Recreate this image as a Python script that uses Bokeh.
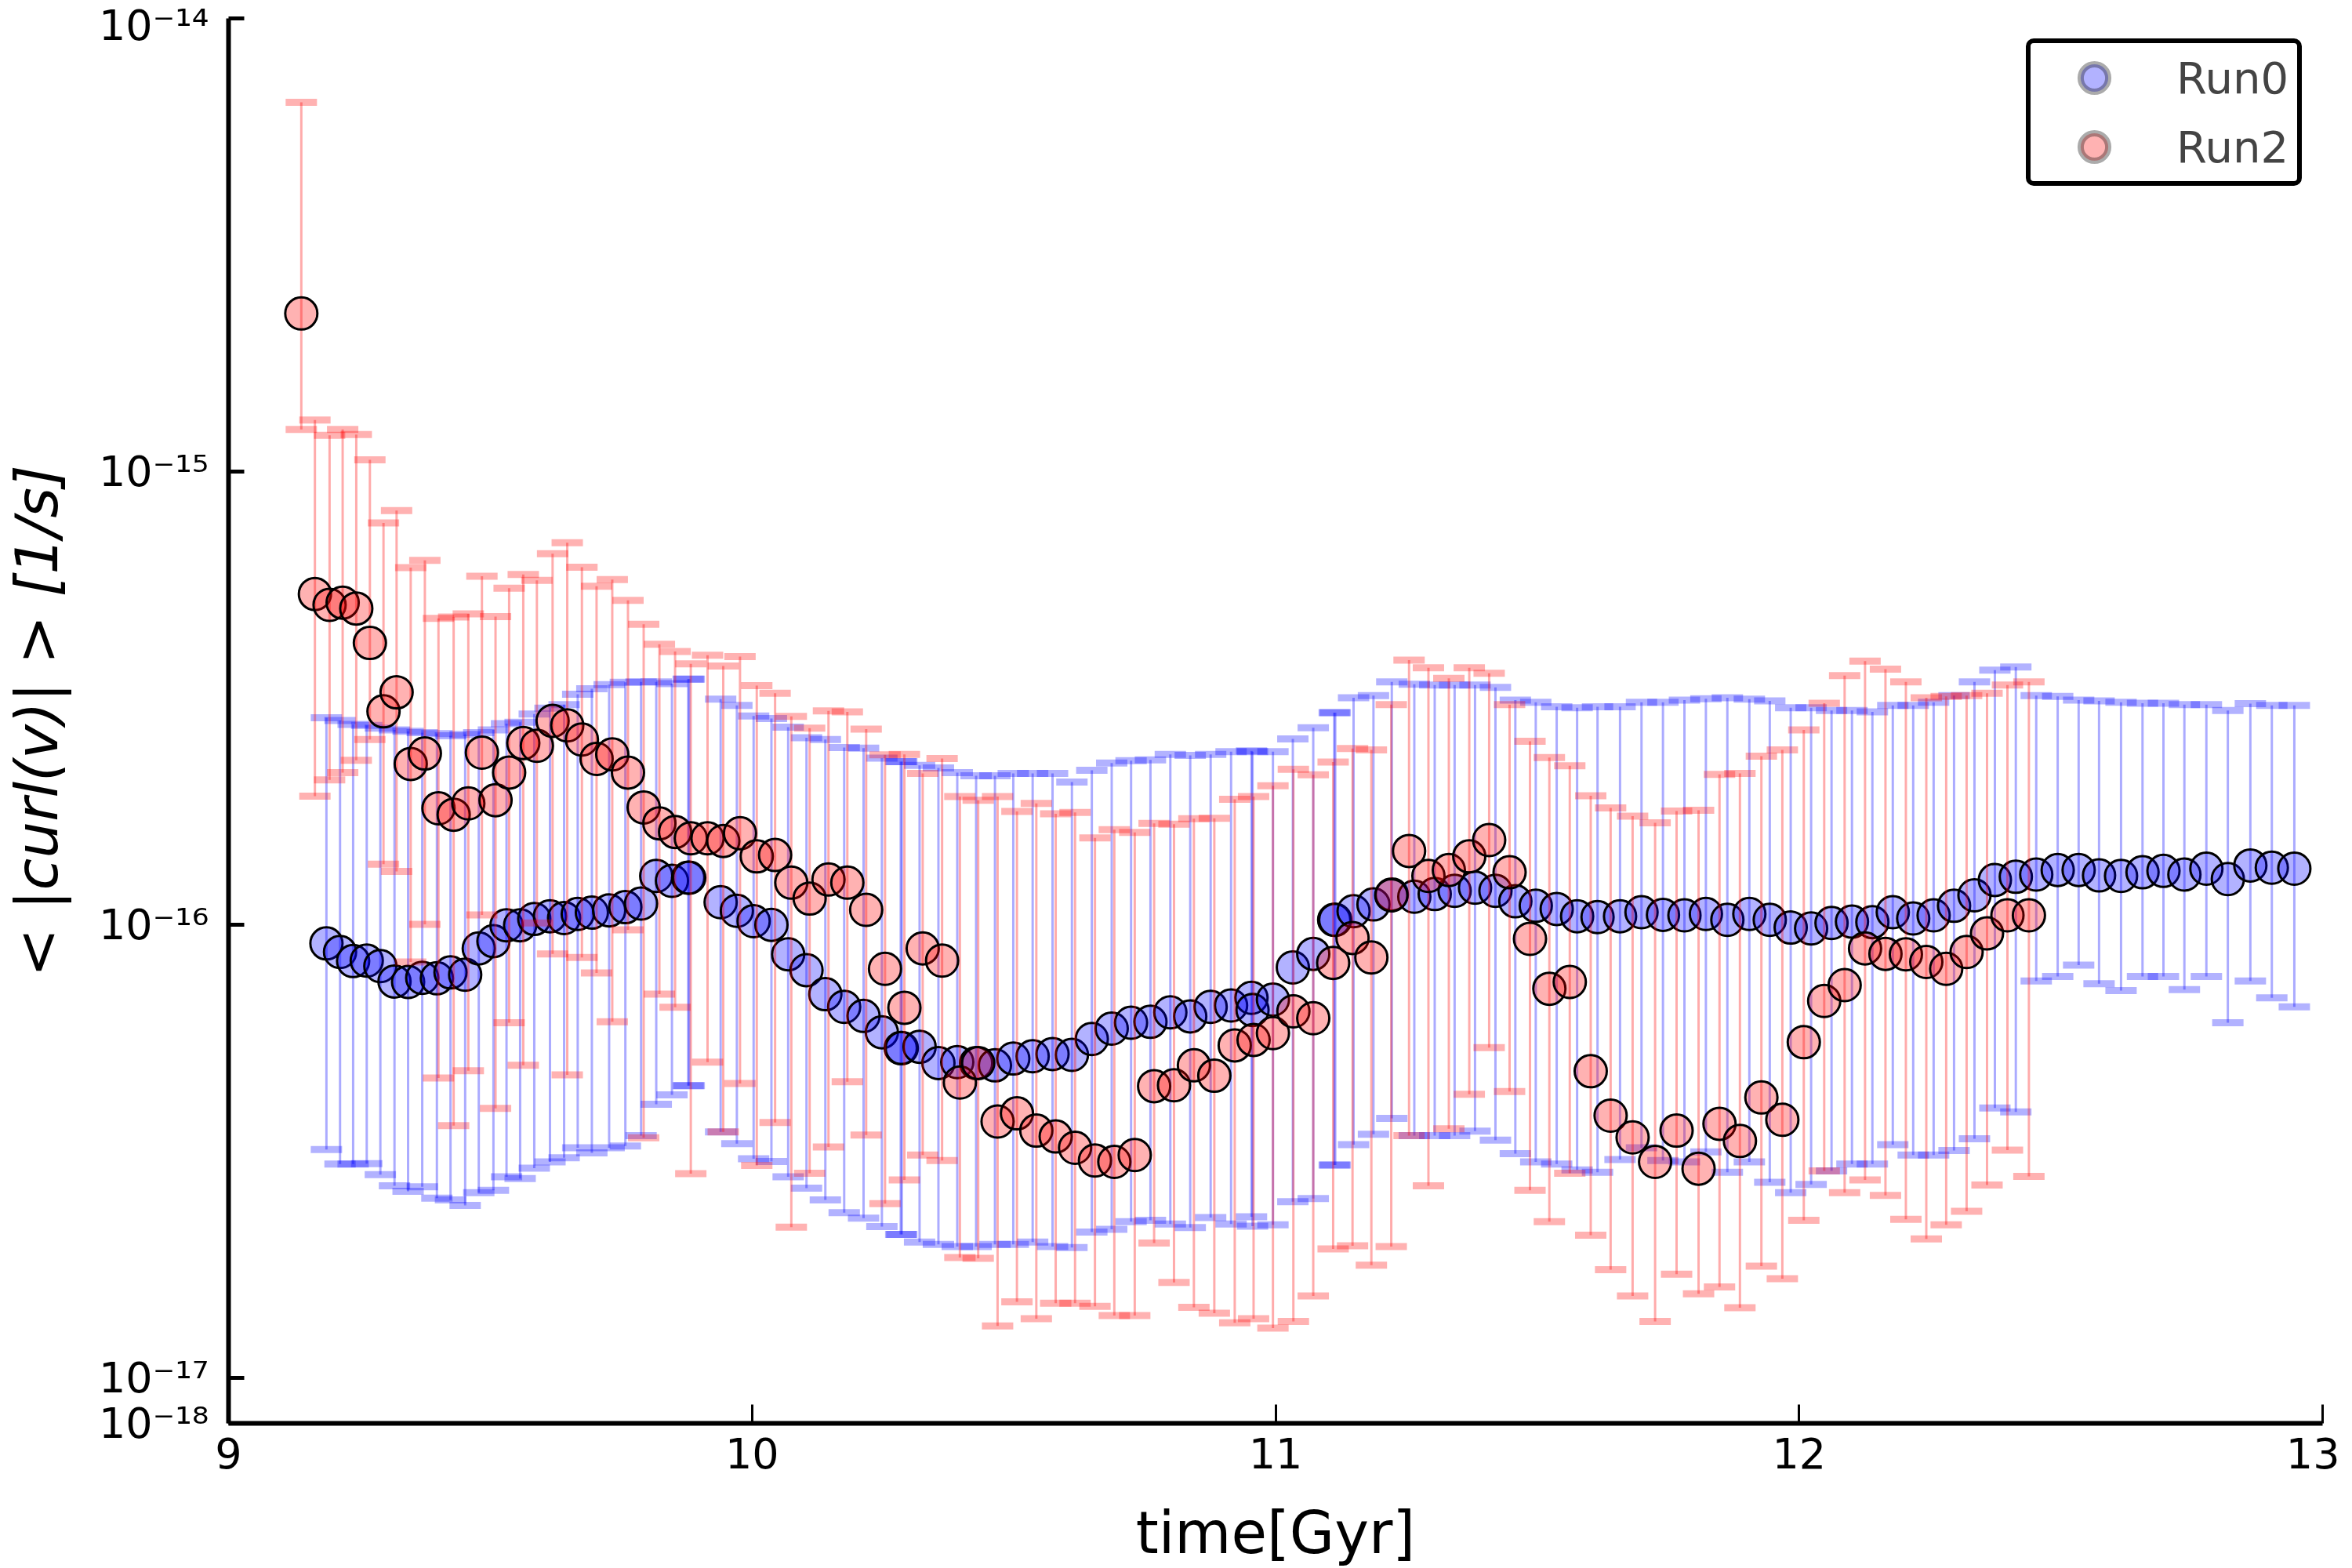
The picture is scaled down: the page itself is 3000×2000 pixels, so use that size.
import numpy as np
from bokeh.plotting import figure
from bokeh.models import (Range1d, FixedTicker, CustomJSTickFormatter, Legend,
                          LegendItem, ColumnDataSource)
from bokeh.embed import file_html
from bokeh.resources import INLINE

# ---------------- data (stored as log10) ----------------
run0_time = [
    9.187, 9.213, 9.238, 9.264, 9.290, 9.317, 9.343, 9.370, 9.398, 9.424,
    9.452, 9.478, 9.506, 9.531, 9.557, 9.584, 9.614, 9.641, 9.667, 9.694,
    9.727, 9.758, 9.788, 9.817, 9.847, 9.878, 9.880, 9.940, 9.971, 10.003,
    10.037, 10.069, 10.104, 10.140, 10.176, 10.213, 10.248, 10.284, 10.286, 10.320,
    10.356, 10.392, 10.428, 10.464, 10.499, 10.536, 10.574, 10.611, 10.649, 10.687,
    10.724, 10.761, 10.799, 10.837, 10.876, 10.915, 10.954, 10.956, 10.995, 11.033,
    11.072, 11.112, 11.114, 11.149, 11.187, 11.222, 11.265, 11.304, 11.342, 11.381,
    11.420, 11.458, 11.497, 11.537, 11.576, 11.615, 11.658, 11.699, 11.740, 11.781,
    11.822, 11.863, 11.905, 11.944, 11.984, 12.023, 12.062, 12.101, 12.140, 12.179,
    12.218, 12.257, 12.296, 12.335, 12.374, 12.414, 12.453, 12.494, 12.534, 12.573,
    12.615, 12.656, 12.696, 12.736, 12.778, 12.819, 12.862, 12.903, 12.946]
run0_log10_mean = [
    -16.041, -16.060, -16.080, -16.079, -16.091, -16.125, -16.126, -16.117, -16.118, -16.105,
    -16.110, -16.052, -16.036, -16.001, -16.001, -15.987, -15.981, -15.985, -15.976, -15.973,
    -15.968, -15.961, -15.953, -15.892, -15.903, -15.896, -15.896, -15.950, -15.969, -15.992,
    -16.000, -16.065, -16.100, -16.153, -16.181, -16.201, -16.237, -16.272, -16.272, -16.269,
    -16.305, -16.303, -16.305, -16.310, -16.295, -16.290, -16.285, -16.287, -16.252, -16.229,
    -16.216, -16.214, -16.193, -16.202, -16.181, -16.178, -16.161, -16.188, -16.165, -16.094,
    -16.064, -15.989, -15.989, -15.970, -15.955, -15.933, -15.938, -15.932, -15.925, -15.918,
    -15.925, -15.948, -15.958, -15.965, -15.981, -15.983, -15.981, -15.972, -15.978, -15.979,
    -15.976, -15.989, -15.976, -15.989, -16.006, -16.008, -15.996, -15.993, -15.994, -15.972,
    -15.986, -15.979, -15.958, -15.935, -15.901, -15.894, -15.889, -15.879, -15.879, -15.891,
    -15.892, -15.884, -15.881, -15.889, -15.876, -15.899, -15.869, -15.874, -15.876]
run0_log10_low = [
    -16.496, -16.528, -16.528, -16.527, -16.551, -16.576, -16.588, -16.578, -16.603, -16.607,
    -16.619, -16.591, -16.586, -16.556, -16.560, -16.537, -16.523, -16.514, -16.492, -16.503,
    -16.492, -16.488, -16.465, -16.396, -16.375, -16.355, -16.355, -16.457, -16.483, -16.516,
    -16.522, -16.556, -16.581, -16.607, -16.635, -16.647, -16.666, -16.683, -16.683, -16.700,
    -16.705, -16.710, -16.710, -16.705, -16.705, -16.700, -16.710, -16.712, -16.678, -16.672,
    -16.655, -16.652, -16.660, -16.668, -16.646, -16.660, -16.644, -16.665, -16.662, -16.611,
    -16.604, -16.530, -16.530, -16.485, -16.462, -16.427, -16.465, -16.465, -16.465, -16.455,
    -16.475, -16.505, -16.523, -16.528, -16.541, -16.546, -16.518, -16.492, -16.520, -16.523,
    -16.501, -16.546, -16.523, -16.568, -16.591, -16.573, -16.543, -16.528, -16.528, -16.485,
    -16.508, -16.508, -16.498, -16.472, -16.404, -16.413, -16.124, -16.114, -16.089, -16.130,
    -16.145, -16.114, -16.114, -16.143, -16.114, -16.216, -16.124, -16.161, -16.181]
run0_log10_high = [
    -15.543, -15.549, -15.558, -15.560, -15.566, -15.570, -15.573, -15.576, -15.578, -15.583,
    -15.580, -15.576, -15.570, -15.556, -15.553, -15.535, -15.522, -15.514, -15.491, -15.479,
    -15.470, -15.465, -15.464, -15.464, -15.468, -15.458, -15.458, -15.502, -15.516, -15.539,
    -15.545, -15.564, -15.587, -15.591, -15.609, -15.610, -15.632, -15.640, -15.640, -15.648,
    -15.654, -15.664, -15.671, -15.671, -15.666, -15.666, -15.666, -15.685, -15.659, -15.643,
    -15.638, -15.636, -15.624, -15.626, -15.624, -15.618, -15.616, -15.618, -15.618, -15.590,
    -15.565, -15.532, -15.532, -15.499, -15.494, -15.464, -15.469, -15.471, -15.471, -15.471,
    -15.476, -15.504, -15.509, -15.519, -15.521, -15.519, -15.519, -15.509, -15.509, -15.504,
    -15.501, -15.499, -15.502, -15.506, -15.521, -15.521, -15.527, -15.527, -15.530, -15.516,
    -15.516, -15.509, -15.494, -15.464, -15.438, -15.431, -15.494, -15.496, -15.504, -15.506,
    -15.509, -15.511, -15.511, -15.514, -15.514, -15.527, -15.512, -15.516, -15.516]

run2_time = [
    9.139, 9.165, 9.193, 9.218, 9.244, 9.270, 9.296, 9.321, 9.348, 9.375,
    9.401, 9.430, 9.458, 9.484, 9.510, 9.536, 9.563, 9.589, 9.619, 9.647,
    9.675, 9.703, 9.733, 9.763, 9.793, 9.823, 9.853, 9.883, 9.915, 9.945,
    9.977, 10.009, 10.044, 10.075, 10.110, 10.146, 10.182, 10.218, 10.254, 10.291,
    10.326, 10.363, 10.397, 10.432, 10.469, 10.506, 10.543, 10.580, 10.617, 10.655,
    10.692, 10.731, 10.768, 10.806, 10.844, 10.883, 10.922, 10.958, 10.995, 11.034,
    11.072, 11.110, 11.147, 11.183, 11.221, 11.255, 11.292, 11.331, 11.370, 11.408,
    11.447, 11.486, 11.523, 11.562, 11.602, 11.640, 11.682, 11.725, 11.766, 11.808,
    11.848, 11.887, 11.928, 11.968, 12.009, 12.048, 12.087, 12.126, 12.165, 12.204,
    12.243, 12.281, 12.320, 12.359, 12.398, 12.439]
run2_log10_mean = [
    -14.651, -15.270, -15.294, -15.289, -15.302, -15.378, -15.529, -15.487, -15.645, -15.622,
    -15.743, -15.757, -15.732, -15.620, -15.725, -15.664, -15.599, -15.605, -15.550, -15.560,
    -15.591, -15.634, -15.624, -15.664, -15.741, -15.776, -15.795, -15.809, -15.809, -15.815,
    -15.798, -15.849, -15.846, -15.907, -15.942, -15.900, -15.907, -15.967, -16.097, -16.183,
    -16.052, -16.079, -16.348, -16.305, -16.434, -16.416, -16.454, -16.467, -16.492, -16.520,
    -16.523, -16.508, -16.356, -16.354, -16.310, -16.333, -16.266, -16.254, -16.239, -16.191,
    -16.206, -16.084, -16.029, -16.072, -15.935, -15.837, -15.892, -15.879, -15.849, -15.813,
    -15.884, -16.031, -16.141, -16.126, -16.323, -16.421, -16.469, -16.523, -16.454, -16.538,
    -16.439, -16.477, -16.381, -16.430, -16.259, -16.168, -16.133, -16.052, -16.064, -16.065,
    -16.082, -16.097, -16.060, -16.019, -15.979, -15.979]
run2_log10_low = [
    -14.907, -15.716, -15.680, -15.664, -15.637, -15.591, -15.866, -15.882, -16.082, -15.999,
    -16.338, -16.443, -16.322, -15.978, -16.405, -16.216, -16.310, -15.996, -16.064, -16.331,
    -16.072, -16.106, -16.214, -16.011, -16.470, -16.153, -16.182, -16.549, -16.303, -16.457,
    -16.350, -16.531, -16.436, -16.667, -16.548, -16.490, -16.346, -16.464, -16.615, -16.563,
    -16.508, -16.520, -16.734, -16.736, -16.885, -16.832, -16.869, -16.835, -16.835, -16.842,
    -16.862, -16.862, -16.702, -16.789, -16.844, -16.857, -16.878, -16.869, -16.890, -16.875,
    -16.819, -16.715, -16.708, -16.751, -16.710, -16.465, -16.576, -16.450, -16.374, -16.271,
    -16.368, -16.586, -16.655, -16.548, -16.685, -16.761, -16.819, -16.875, -16.771, -16.814,
    -16.799, -16.845, -16.753, -16.781, -16.652, -16.543, -16.591, -16.563, -16.597, -16.650,
    -16.693, -16.662, -16.632, -16.574, -16.497, -16.555]
run2_log10_high = [
    -14.185, -14.886, -14.920, -14.907, -14.918, -14.974, -15.113, -15.086, -15.212, -15.196,
    -15.324, -15.321, -15.314, -15.231, -15.320, -15.257, -15.227, -15.240, -15.181, -15.157,
    -15.211, -15.253, -15.238, -15.284, -15.337, -15.381, -15.397, -15.424, -15.405, -15.429,
    -15.408, -15.472, -15.489, -15.540, -15.566, -15.528, -15.530, -15.568, -15.625, -15.624,
    -15.666, -15.633, -15.717, -15.725, -15.717, -15.750, -15.732, -15.755, -15.752, -15.808,
    -15.790, -15.796, -15.776, -15.778, -15.766, -15.765, -15.723, -15.717, -15.693, -15.657,
    -15.669, -15.641, -15.611, -15.614, -15.514, -15.416, -15.433, -15.456, -15.433, -15.445,
    -15.514, -15.595, -15.631, -15.649, -15.715, -15.742, -15.760, -15.775, -15.749, -15.747,
    -15.668, -15.666, -15.628, -15.614, -15.570, -15.511, -15.450, -15.418, -15.436, -15.464,
    -15.499, -15.496, -15.494, -15.489, -15.471, -15.464]

series_labels = ["Run0", "Run2"]
series_colors = ["blue", "red"]
x_tick_values = [9, 10, 11, 12, 13]
y_tick_exponents = [-14, -15, -16, -17]
y_bottom_label = "10⁻¹⁸"
x_limits = (9, 13)
y_limits_log10 = (-17.1, -14.0)
x_label = "time[Gyr]"
y_label = "< |curl(v)| > [1/s]"

FONT = "DejaVu Sans"


def make_source(t, m, lo, hi):
    return ColumnDataSource(dict(
        t=np.array(t, dtype=float),
        mean=10.0 ** np.array(m),
        lo=10.0 ** np.array(lo),
        hi=10.0 ** np.array(hi),
    ))


src0 = make_source(run0_time, run0_log10_mean, run0_log10_low, run0_log10_high)
src2 = make_source(run2_time, run2_log10_mean, run2_log10_low, run2_log10_high)

p = figure(width=2984, height=2000,
           x_range=Range1d(*x_limits),
           y_range=Range1d(10.0 ** y_limits_log10[0], 10.0 ** y_limits_log10[1]),
           y_axis_type="log", output_backend="svg", toolbar_location=None,
           min_border_left=280, min_border_right=22,
           min_border_top=23, min_border_bottom=182)
p.outline_line_color = None
p.xgrid.visible = False
p.ygrid.visible = False
p.background_fill_color = "white"
p.border_fill_color = "white"


def draw(src, color):
    p.segment(x0="t", y0="lo", x1="t", y1="hi", source=src,
              line_color=color, line_alpha=0.33, line_width=3)
    for f in ("lo", "hi"):
        p.rect(x="t", y=f, width=40, height=9, width_units="screen",
               height_units="screen", source=src, fill_color=color,
               fill_alpha=0.3, line_color=None)
    p.scatter(x="t", y="mean", source=src, size=41, fill_color=color,
              fill_alpha=0.3, line_color="black", line_width=3)


draw(src0, series_colors[0])
draw(src2, series_colors[1])

# legend proxies (nan -> never drawn in the plot area)
proxy = ColumnDataSource(dict(x=np.array([np.nan]), y=np.array([np.nan])))
leg_renderers = []
for c in series_colors:
    r = p.scatter(x="x", y="y", source=proxy, size=40, fill_color=c,
                  fill_alpha=0.3, line_color="black", line_alpha=0.33,
                  line_width=8)
    leg_renderers.append(r)

legend = Legend(
    items=[LegendItem(label=l, renderers=[r]) for l, r in zip(series_labels, leg_renderers)],
    location="top_right", margin=26, padding=0, spacing=0,
    glyph_width=162, glyph_height=88, label_standoff=24, label_width=154,
    label_text_font=FONT, label_text_font_size="56px",
    border_line_color="black", border_line_width=6, border_line_alpha=1.0,
    background_fill_color="white", background_fill_alpha=1.0,
)
try:
    legend.border_radius = 10
except Exception:
    pass
p.add_layout(legend)

# axes
for ax in (p.xaxis[0], p.yaxis[0]):
    ax.axis_line_color = "black"
    ax.axis_line_width = 6
    ax.major_tick_line_color = "black"
    ax.major_tick_out = 0
    ax.minor_tick_line_color = None
    ax.major_label_text_font = FONT
    ax.major_label_text_color = "black"
    ax.axis_label_text_font = FONT
    ax.axis_label_text_color = "black"
    ax.axis_label_text_font_size = "74px"
    ax.axis_label_text_line_height = 1.0
    ax.major_label_text_line_height = 1.0

xa = p.xaxis[0]
xa.ticker = FixedTicker(ticks=x_tick_values)
xa.major_tick_in = 24
xa.major_tick_line_width = 3
xa.major_label_text_font_size = "54px"
xa.major_label_standoff = 18
xa.axis_label = x_label
xa.axis_label_text_font_style = "normal"
xa.axis_label_standoff = 36

ya = p.yaxis[0]
y_ticks = [10.0 ** e for e in y_tick_exponents] + [10.0 ** (y_limits_log10[0] + 0.0005)]
ya.ticker = FixedTicker(ticks=y_ticks)
ya.formatter = CustomJSTickFormatter(args=dict(bottom=y_bottom_label), code="""
    const sup = {"0":"\u2070","1":"\u00b9","2":"\u00b2","3":"\u00b3","4":"\u2074",
                 "5":"\u2075","6":"\u2076","7":"\u2077","8":"\u2078","9":"\u2079","-":"\u207b"};
    const l = Math.log10(tick);
    if (l < -17.05) { return bottom; }
    const e = String(Math.round(l));
    let s = "10";
    for (const c of e) { s += sup[c]; }
    return s;
""")
ya.major_tick_in = 20
ya.major_tick_line_width = 5
ya.major_label_text_font_size = "54px"
ya.major_label_standoff = 25
ya.axis_label = y_label
ya.axis_label_text_font_style = "italic"
ya.axis_label_standoff = 33

with open("out.html", "w", encoding="utf-8") as fh:
    fh.write(file_html(p, INLINE))
